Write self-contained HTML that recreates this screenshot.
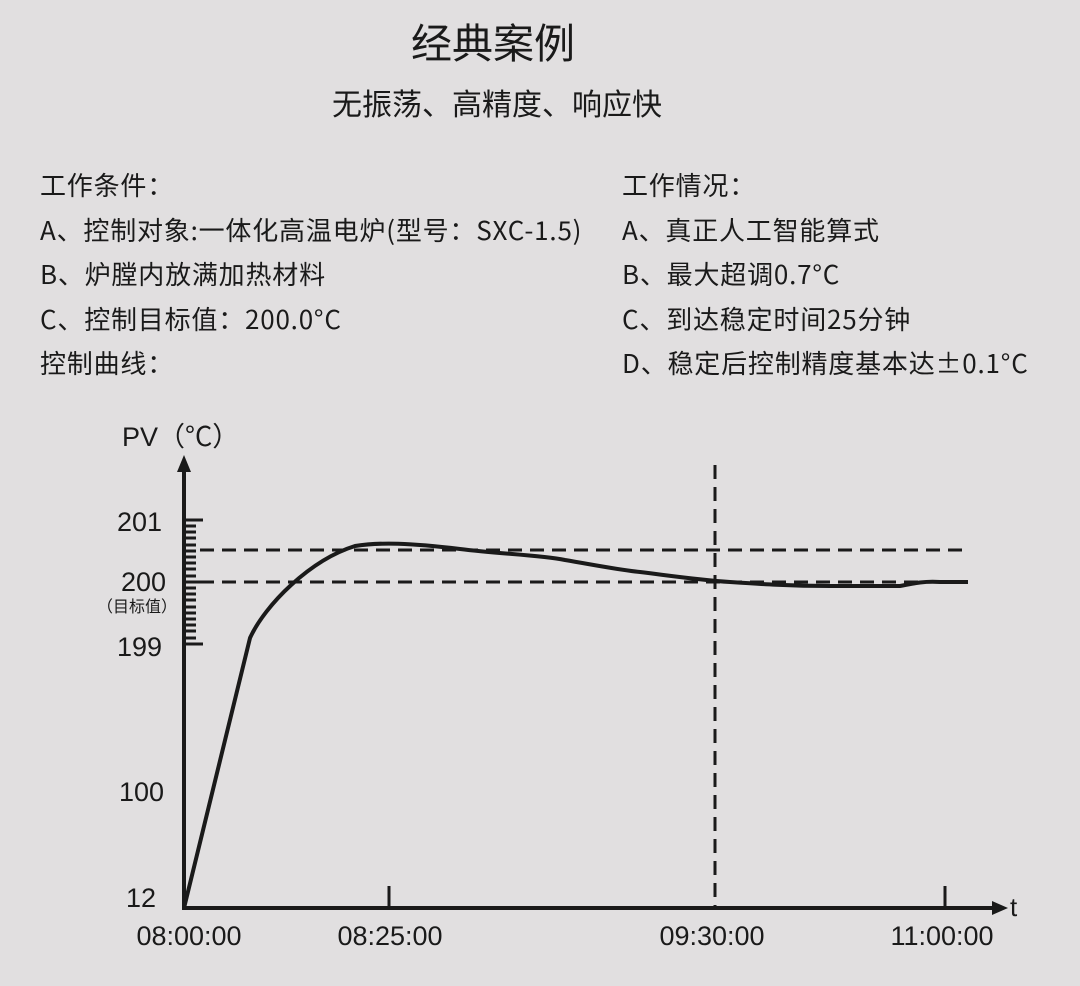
<!DOCTYPE html><html><head><meta charset="utf-8"><style>
body{margin:0;width:1080px;height:986px;background:#e1dfe0;font-family:"Noto Sans CJK SC","Liberation Sans",sans-serif;color:#1a1a1a;position:relative;overflow:hidden}
.t{position:absolute;white-space:nowrap;font-size:26px;line-height:1;letter-spacing:0.8px}
</style></head><body>
<div class="t" style="left:0;width:986px;text-align:center;top:20px;font-size:41px;letter-spacing:0">经典案例</div>
<div class="t" style="left:0;width:994px;text-align:center;top:87px;font-size:30px;letter-spacing:0">无振荡、高精度、响应快</div>
<div class="t" style="left:40px;top:172px">工作条件：</div>
<div class="t" style="left:40px;top:217px">A、控制对象:一体化高温电炉(型号：SXC-1.5)</div>
<div class="t" style="left:40px;top:261px">B、炉膛内放满加热材料</div>
<div class="t" style="left:40px;top:306px">C、控制目标值：200.0°C</div>
<div class="t" style="left:40px;top:350px">控制曲线：</div>
<div class="t" style="left:622px;top:172px">工作情况：</div>
<div class="t" style="left:622px;top:217px">A、真正人工智能算式</div>
<div class="t" style="left:622px;top:261px">B、最大超调0.7°C</div>
<div class="t" style="left:622px;top:306px">C、到达稳定时间25分钟</div>
<div class="t" style="left:622px;top:350px">D、稳定后控制精度基本达±0.1°C</div>
<svg width="1080" height="986" style="position:absolute;left:0;top:0" font-family="Liberation Sans, Noto Sans CJK SC, sans-serif" fill="#1a1a1a">
<text x="122" y="446" font-size="27">PV<tspan font-family="Noto Sans CJK SC">（°C）</tspan></text>
<line x1="184" y1="470" x2="184" y2="910" stroke="#1a1a1a" stroke-width="4"/>
<polygon points="184,455 177,472 191,472"/>
<line x1="182" y1="908" x2="995" y2="908" stroke="#1a1a1a" stroke-width="4"/>
<polygon points="1008,908 992,901 992,915"/>
<text x="1010" y="916" font-size="26">t</text>
<g stroke="#1a1a1a" stroke-width="3">
<line x1="184" y1="520" x2="203" y2="520"/><line x1="184" y1="582" x2="203" y2="582"/><line x1="184" y1="644" x2="203" y2="644"/>
<line x1="184" y1="526" x2="196" y2="526"/><line x1="184" y1="532" x2="196" y2="532"/><line x1="184" y1="538" x2="196" y2="538"/><line x1="184" y1="545" x2="196" y2="545"/><line x1="184" y1="551" x2="196" y2="551"/><line x1="184" y1="557" x2="196" y2="557"/><line x1="184" y1="563" x2="196" y2="563"/><line x1="184" y1="569" x2="196" y2="569"/><line x1="184" y1="576" x2="196" y2="576"/>
<line x1="184" y1="588" x2="196" y2="588"/><line x1="184" y1="594" x2="196" y2="594"/><line x1="184" y1="600" x2="196" y2="600"/><line x1="184" y1="607" x2="196" y2="607"/><line x1="184" y1="613" x2="196" y2="613"/><line x1="184" y1="619" x2="196" y2="619"/><line x1="184" y1="625" x2="196" y2="625"/><line x1="184" y1="631" x2="196" y2="631"/><line x1="184" y1="638" x2="196" y2="638"/>
<line x1="389" y1="886" x2="389" y2="908"/><line x1="945" y1="886" x2="945" y2="908"/>
</g>
<g stroke="#1a1a1a" stroke-width="3" stroke-dasharray="14,8">
<line x1="200" y1="550" x2="966" y2="550"/><line x1="200" y1="582" x2="966" y2="582"/>
<line x1="715" y1="465" x2="715" y2="908"/>
</g>
<path d="M184,908 L250,638 C265,605 310,560 355,546 C380,542 410,543 460,549 C500,554 540,555 565,560 C600,566 620,570 640,572 C680,577 700,580 730,582 C760,584 790,586 830,586 L900,586 C915,583 925,581 940,582 L968,582" fill="none" stroke="#1a1a1a" stroke-width="4"/>
<g font-size="27" text-anchor="end">
<text x="162" y="531">201</text><text x="166" y="591">200</text><text x="162" y="656">199</text><text x="164" y="801">100</text><text x="156" y="907">12</text>
</g>
<text x="97" y="612" font-size="16" font-family="Noto Sans CJK SC">（目标值）</text>
<g font-size="27" text-anchor="middle">
<text x="189" y="945">08:00:00</text><text x="390" y="945">08:25:00</text><text x="712" y="945">09:30:00</text><text x="942" y="945">11:00:00</text>
</g>
</svg>
</body></html>
